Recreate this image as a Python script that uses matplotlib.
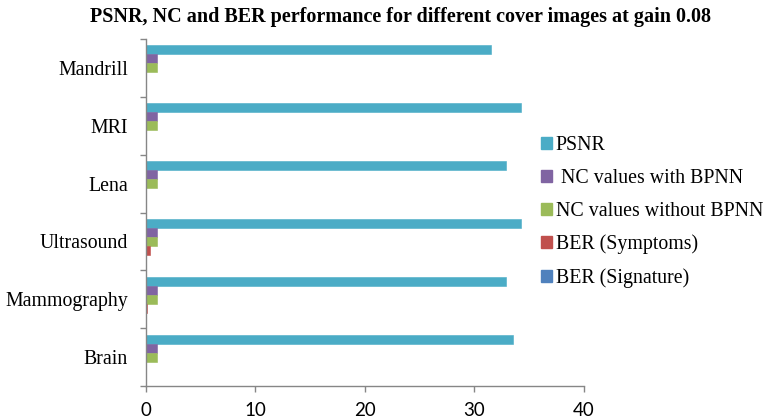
import matplotlib
matplotlib.use("Agg")
import matplotlib.pyplot as plt
import numpy as np
from matplotlib.patches import Patch

categories = ["Brain", "Mammography", "Ultrasound", "Lena", "MRI", "Mandrill"]
psnr = [33.5, 32.9, 34.3, 32.9, 34.3, 31.5]
nc_with = [1.0, 1.0, 1.0, 1.0, 1.0, 1.0]
nc_without = [0.98, 0.98, 0.98, 0.98, 0.98, 0.98]
ber_symptoms = [0.0, 0.05, 0.38, 0.0, 0.0, 0.0]
ber_signature = [0.0, 0.0, 0.0, 0.0, 0.0, 0.0]
series_labels = ["PSNR", " NC values with BPNN", "NC values without BPNN", "BER (Symptoms)", "BER (Signature)"]
colors = ["#4BACC6", "#8064A2", "#9BBB59", "#C0504D", "#4F81BD"]
xticks = [0, 10, 20, 30, 40]

fig = plt.figure(figsize=(7.63, 4.2), dpi=100)
ax = fig.add_axes([146/763, 1-386/420, (583.7-146)/763, (386-39)/420])

y = np.arange(len(categories))
h = 0.156
series = [psnr, nc_with, nc_without, ber_symptoms, ber_signature]
offsets = [2*h, h, 0, -h, -2*h]
for vals, off, c in zip(series, offsets, colors):
    ax.barh(y + off, vals, height=h, color=c, edgecolor=c, linewidth=0.4)

ax.set_ylim(-0.5, len(categories) - 0.5)
ax.set_xlim(0, 40)
ax.set_xticks(xticks)
ax.set_xticklabels([str(t) for t in xticks], fontfamily="Lato", fontsize=13.5)
ax.set_yticks(y)
ax.set_yticklabels(categories, fontfamily="Liberation Serif", fontsize=14.3)
ax.set_yticks(np.arange(-0.5, len(categories), 1.0), minor=True)
ax.tick_params(axis="y", which="major", length=0, pad=13)
ax.tick_params(axis="y", which="minor", length=4.5, color="#868686", width=1)
ax.tick_params(axis="x", which="major", length=4, color="#868686", width=1, pad=7.5)

for s in ["top", "right"]:
    ax.spines[s].set_visible(False)
for s in ["left", "bottom"]:
    ax.spines[s].set_color("#868686")
    ax.spines[s].set_linewidth(1)

handles = [Patch(facecolor=c, edgecolor=c) for c in colors]
fig.legend(handles, series_labels, loc="upper left", bbox_to_anchor=(541/763, 1-136/420),
           frameon=False, prop={"family": "Liberation Serif", "size": 14.3},
           handlelength=0.55, handleheight=0.55, handletextpad=0.2, labelspacing=0.7,
           borderaxespad=0, borderpad=0)

fig.text(400/763, 1-17/420, "PSNR, NC and BER performance for different cover images at gain 0.08",
         ha="center", va="center", fontfamily="Liberation Serif", fontweight="bold", fontsize=14.5)

fig.savefig("out.png", dpi=100)
